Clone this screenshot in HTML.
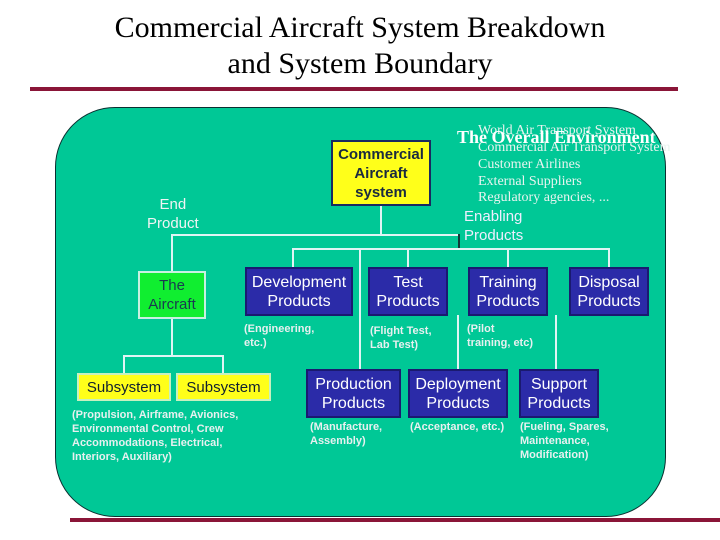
<!DOCTYPE html>
<html><head><style>
body{margin:0;width:720px;height:540px;background:#fff;position:relative;overflow:hidden;font-family:"Liberation Sans",Arial,sans-serif}
.a{position:absolute}
.t{font-family:"Liberation Serif",serif;font-size:30px;color:#000;text-align:center;width:720px;left:0;line-height:36px}
.b{position:absolute;box-sizing:border-box;text-align:center;font-size:16px;line-height:19px;display:flex;align-items:center;justify-content:center}
.blue{background:#2b2ba8;border:2px solid #1a1a70;color:#fff}
.n{position:absolute;color:#e8f0f0;font-size:11px;font-weight:bold;line-height:14px}
.h{position:absolute;background:#e0f4f4;height:2px}
.v{position:absolute;background:#e0f4f4;width:2px}
.s{position:absolute;color:#e8f4f0;font-family:"Liberation Serif",serif;font-size:14px;line-height:17px}
</style></head><body>
<div class="a t" style="top:10px">Commercial Aircraft System Breakdown<br>and System Boundary</div>
<div class="a" style="left:30px;top:87px;width:648px;height:4px;background:#8a1538"></div>
<div class="a" style="left:55px;top:107px;width:611px;height:410px;background:#00c896;border:1px solid #0a3030;border-radius:60px;box-sizing:border-box"></div>
<div class="a" style="left:70px;top:518px;width:650px;height:4px;background:#8a1538"></div>

<div class="s" style="left:478px;top:122px">World Air Transport System</div>
<div class="a" style="left:457px;top:127px;color:#fff;font-family:'Liberation Serif',serif;font-weight:bold;font-size:18px;white-space:nowrap">The Overall Environment</div>
<div class="s" style="left:478px;top:139px;white-space:nowrap">Commercial Air Transport System</div>
<div class="s" style="left:478px;top:156px">Customer Airlines</div>
<div class="s" style="left:478px;top:173px">External Suppliers</div>
<div class="s" style="left:478px;top:189px">Regulatory agencies, ...</div>
<div class="a" style="left:464px;top:207px;color:#eef;font-size:15px;line-height:19px">Enabling<br>Products</div>
<div class="a" style="left:147px;top:195px;color:#f0f4f4;font-size:15px;line-height:19px;text-align:center">End<br>Product</div>

<!-- lines -->
<div class="v" style="left:380px;top:205px;height:31px"></div>
<div class="h" style="left:171px;top:234px;width:289px"></div>
<div class="v" style="left:458px;top:234px;height:16px;background:#103838"></div>
<div class="v" style="left:171px;top:234px;height:38px"></div>
<div class="h" style="left:292px;top:248px;width:318px"></div>
<div class="v" style="left:292px;top:248px;height:19px"></div>
<div class="v" style="left:407px;top:248px;height:19px"></div>
<div class="v" style="left:507px;top:248px;height:19px"></div>
<div class="v" style="left:608px;top:248px;height:19px"></div>
<div class="v" style="left:359px;top:248px;height:122px"></div>
<div class="v" style="left:457px;top:315px;height:55px"></div>
<div class="v" style="left:555px;top:315px;height:55px"></div>
<div class="v" style="left:171px;top:318px;height:38px"></div>
<div class="h" style="left:123px;top:355px;width:101px"></div>
<div class="v" style="left:123px;top:355px;height:18px"></div>
<div class="v" style="left:222px;top:355px;height:18px"></div>

<div class="b" style="left:331px;top:140px;width:100px;height:66px;background:#ffff1a;border:2px solid #1a2a60;color:#1a2a40;font-weight:bold;font-size:15px;line-height:19px">Commercial<br>Aircraft<br>system</div>
<div class="b" style="left:138px;top:271px;width:68px;height:48px;background:#10ee30;border:2px solid #c8f0e0;color:#1a3a50;font-size:15px">The<br>Aircraft</div>
<div class="b blue" style="left:245px;top:267px;width:108px;height:49px">Development<br>Products</div>
<div class="b blue" style="left:368px;top:267px;width:80px;height:49px">Test<br>Products</div>
<div class="b blue" style="left:468px;top:267px;width:80px;height:49px">Training<br>Products</div>
<div class="b blue" style="left:569px;top:267px;width:80px;height:49px">Disposal<br>Products</div>
<div class="b blue" style="left:306px;top:369px;width:95px;height:49px">Production<br>Products</div>
<div class="b blue" style="left:408px;top:369px;width:100px;height:49px">Deployment<br>Products</div>
<div class="b blue" style="left:519px;top:369px;width:80px;height:49px">Support<br>Products</div>
<div class="b" style="left:77px;top:373px;width:94px;height:28px;background:#ffff1a;border:2px solid #c8f0c0;color:#102030;font-size:15px">Subsystem</div>
<div class="b" style="left:176px;top:373px;width:95px;height:28px;background:#ffff1a;border:2px solid #c8f0c0;color:#102030;font-size:15px">Subsystem</div>

<div class="n" style="left:244px;top:322px">(Engineering,<br>etc.)</div>
<div class="n" style="left:370px;top:324px">(Flight Test,<br>Lab Test)</div>
<div class="n" style="left:467px;top:322px">(Pilot<br>training, etc)</div>
<div class="n" style="left:310px;top:420px">(Manufacture,<br>Assembly)</div>
<div class="n" style="left:410px;top:420px">(Acceptance, etc.)</div>
<div class="n" style="left:520px;top:420px">(Fueling, Spares,<br>Maintenance,<br>Modification)</div>
<div class="n" style="left:72px;top:408px">(Propulsion, Airframe, Avionics,<br>Environmental Control, Crew<br>Accommodations, Electrical,<br>Interiors, Auxiliary)</div>
</body></html>
